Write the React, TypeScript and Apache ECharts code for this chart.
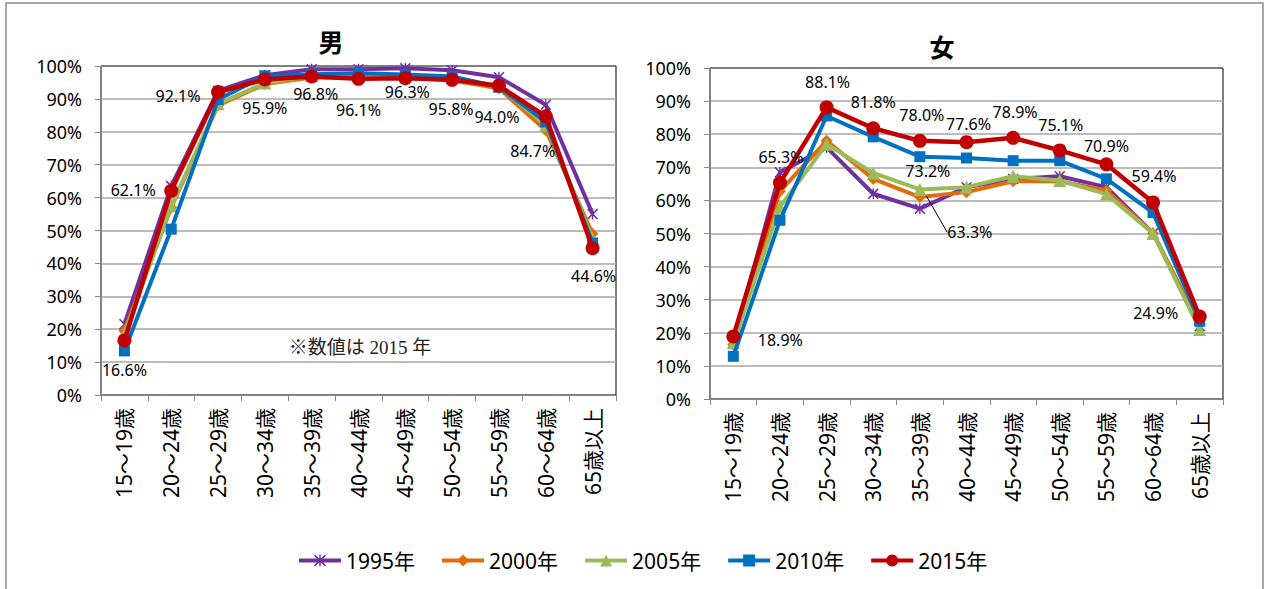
import React, { useEffect, useRef } from "react";
import * as echarts from "echarts";

const categories = [
  "15～19歳", "20～24歳", "25～29歳", "30～34歳", "35～39歳", "40～44歳",
  "45～49歳", "50～54歳", "55～59歳", "60～64歳", "65歳以上",
];
const years = ["1995年", "2000年", "2005年", "2010年", "2015年"];

const male1995 = [21.5, 63.5, 92.5, 97.2, 99.0, 99.0, 99.3, 98.7, 96.6, 88.2, 55.0];
const male2000 = [19.5, 57.0, 88.0, 94.5, 96.5, 96.6, 96.5, 95.6, 93.2, 80.5, 49.0];
const male2005 = [18.5, 57.5, 88.5, 94.8, 97.0, 97.3, 97.2, 96.5, 93.8, 82.0, 47.5];
const male2010 = [13.4, 50.4, 89.8, 97.0, 97.5, 97.8, 97.4, 96.8, 93.6, 83.0, 46.2];
const male2015 = [16.6, 62.1, 92.1, 95.9, 96.8, 96.1, 96.3, 95.8, 94.0, 84.7, 44.6];

const female1995 = [17.0, 68.5, 76.0, 62.0, 57.5, 64.0, 66.5, 67.3, 64.0, 50.1, 22.0];
const female2000 = [16.5, 62.8, 78.0, 66.5, 61.0, 62.5, 65.8, 65.8, 63.0, 50.1, 22.5];
const female2005 = [17.0, 58.0, 77.0, 68.3, 63.3, 64.0, 67.3, 66.0, 61.9, 50.0, 21.0];
const female2010 = [12.9, 54.0, 85.5, 79.2, 73.2, 72.8, 72.0, 72.0, 66.5, 56.3, 23.5];
const female2015 = [18.9, 65.3, 88.1, 81.8, 78.0, 77.6, 78.9, 75.1, 70.9, 59.4, 24.9];

const yTicks = [0, 10, 20, 30, 40, 50, 60, 70, 80, 90, 100];

// label placement (pixel offsets from each point), style only
const maleLabelOffsets = [[0, 30], [-38, -1], [-40, 4], [0, 29], [4, 17], [0, 31], [2, 14], [-1, 29], [-2, 31], [-13, 35], [1, 28]];
const femaleLabelOffsets = [[47, 4], [1, -26], [1, -25], [0, -26], [2, -26], [2, -18], [2, -26], [1, -25], [0, -18], [1, -26], [-44, -4]];

const COLORS = ["#7030A0", "#E36C0A", "#9BBB59", "#0070C0", "#C00000"];
const ASTER = "path://M0,1L1,0L10,9L9,10Z M9,0L10,1L1,10L0,9Z M4.4,0L5.6,0L5.6,10L4.4,10Z";
const SYMBOLS = [ASTER, "diamond", "triangle", "rect", "circle"];
const SIZES = [11, 12, 13, 11, 14];
const WIDTHS = [4, 4, 4, 4, 4.5];

const FONT = "'Noto Sans', 'Noto Sans CJK JP', sans-serif";

const fmt = (v: number) => v.toFixed(1) + "%";

const labelStyle = {
  color: "#000",
  fontSize: 16,
  fontFamily: FONT,
};

function buildSeries(
  idx: number,
  values: number[],
  axis: number,
  labelFor: (i: number) => any
) {
  return {
    type: "line",
    name: years[idx],
    xAxisIndex: axis,
    yAxisIndex: axis,
    symbol: SYMBOLS[idx],
    symbolSize: SIZES[idx],
    showAllSymbol: true,
    z: 2 + idx,
    lineStyle: { color: COLORS[idx], width: WIDTHS[idx] },
    itemStyle: { color: COLORS[idx], borderWidth: 0 },
    label: { show: false },
    emphasis: { disabled: true },
    data: values.map((v, i) => {
      const l = labelFor(i);
      return l ? { value: v, label: l } : { value: v };
    }),
  };
}

const maleSets = [male1995, male2000, male2005, male2010, male2015];
const femaleSets = [female1995, female2000, female2005, female2010, female2015];

function makeOption(): any {
  const series: any[] = [];
  maleSets.forEach((vals, idx) => {
    series.push(
      buildSeries(idx, vals, 0, (i) =>
        idx === 4
          ? { show: true, position: "inside", offset: maleLabelOffsets[i], formatter: fmt(vals[i]), ...labelStyle }
          : null
      )
    );
  });
  femaleSets.forEach((vals, idx) => {
    const s: any = buildSeries(idx, vals, 1, (i) => {
      if (idx === 4)
        return { show: true, position: "inside", offset: femaleLabelOffsets[i], formatter: fmt(vals[i]), ...labelStyle };
      if (idx === 3 && i === 4)
        return { show: true, position: "inside", offset: [8, 14], formatter: fmt(vals[i]), ...labelStyle };
      if (idx === 2 && i === 4)
        return { show: true, position: "inside", formatter: fmt(vals[i]), ...labelStyle };
      return null;
    });
    if (idx === 2) {
      s.labelLayout = (p: any) => (p.dataIndex === 4 ? { dx: 50, dy: 43 } : {});
      s.labelLine = { show: true, lineStyle: { color: "#000", width: 1 } };
    }
    series.push(s);
  });

  const yAxis = (gi: number) => ({
    type: "value",
    gridIndex: gi,
    min: 0,
    max: 100,
    interval: 10,
    axisLine: { show: true, lineStyle: { color: "#868686", width: 1 } },
    axisTick: { show: true, length: 6, lineStyle: { color: "#868686" } },
    axisLabel: {
      formatter: (v: number) => (yTicks.includes(v) ? v + "%" : ""),
      color: "#000",
      fontSize: 18,
      fontFamily: FONT,
      margin: 19,
    },
    splitLine: { show: true, showMaxLine: false, showMinLine: false, lineStyle: { color: "#A6A6A6", width: 1.5 } },
  });
  const xAxis = (gi: number) => ({
    type: "category",
    gridIndex: gi,
    data: categories,
    boundaryGap: true,
    axisLine: { show: true, lineStyle: { color: "#868686", width: 1 } },
    axisTick: { show: true, length: 6, alignWithLabel: false, lineStyle: { color: "#868686" } },
    axisLabel: {
      rotate: 90,
      interval: 0,
      color: "#000",
      fontSize: 21,
      fontFamily: FONT,
      margin: 13,
    },
    splitLine: { show: false },
  });

  return {
    animation: false,
    backgroundColor: "#fff",
    grid: [
      { left: 101, top: 66, width: 515, height: 329, show: true, borderColor: "#000", borderWidth: 1, backgroundColor: "transparent", containLabel: false },
      { left: 710, top: 68, width: 513, height: 331, show: true, borderColor: "#000", borderWidth: 1, backgroundColor: "transparent", containLabel: false },
    ],
    xAxis: [xAxis(0), xAxis(1)],
    yAxis: [yAxis(0), yAxis(1)],
    legend: {
      data: years,
      left: 292,
      top: 545,
      itemWidth: 42,
      itemHeight: 15,
      itemGap: 25,
      lineStyle: { width: 4 },
      textStyle: { color: "#000", fontSize: 21, fontFamily: FONT },
      selectedMode: false,
    },
    graphic: [
      {
        type: "rect",
        shape: { x: 6, y: 3, width: 1257, height: 640 },
        style: { fill: "none", stroke: "#8C8C8C", lineWidth: 1.5 },
        silent: true,
        z: -10,
      },
      {
        type: "text",
        x: 331,
        y: 41,
        style: { text: "男", fill: "#000", font: "bold 25px 'Noto Sans CJK JP', sans-serif", textAlign: "center", textVerticalAlign: "middle" },
      },
      {
        type: "text",
        x: 942,
        y: 46,
        style: { text: "女", fill: "#000", font: "bold 25px 'Noto Sans CJK JP', sans-serif", textAlign: "center", textVerticalAlign: "middle" },
      },
      {
        type: "text",
        x: 360,
        y: 347,
        style: { text: "※数値は 2015 年", fill: "#222", font: "19px 'Liberation Serif', 'Noto Sans CJK JP', serif", textAlign: "center", textVerticalAlign: "middle" },
      },
    ],
    series,
  };
}

export default function App() {
  const ref = useRef<HTMLDivElement>(null);
  useEffect(() => {
    document.body.style.margin = "0";
    const chart = echarts.init(ref.current!, undefined, { renderer: "svg" });
    chart.setOption(makeOption());
    return () => chart.dispose();
  }, []);
  return <div ref={ref} style={{ width: 1266, height: 589, background: "#fff" }} />;
}
